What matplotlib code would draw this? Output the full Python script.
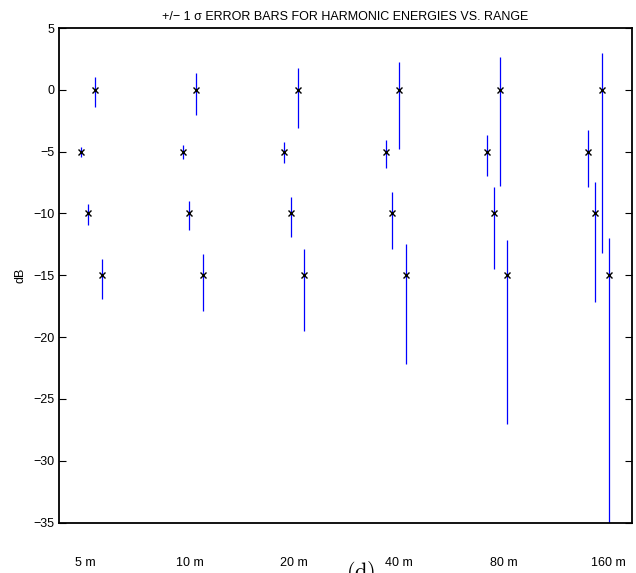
import numpy as np
import matplotlib
matplotlib.use('Agg')
import matplotlib.pyplot as plt

plt.rcParams['font.family'] = ['Liberation Sans', 'DejaVu Sans']
plt.rcParams['mathtext.fontset'] = 'cm'

# range bins and the mean harmonic level (dB) at each
ranges = ['5 m', '10 m', '20 m', '40 m', '80 m', '160 m']
levels = [0, -5, -10, -15]

# +/- 1 sigma limits (dB) for each harmonic level, one value per range bin
upper_0 = [1.03, 1.40, 1.78, 2.24, 2.67, 2.94]
lower_0 = [-1.38, -2.02, -3.08, -4.80, -7.77, -13.17]
upper_5 = [-4.62, -4.45, -4.26, -4.02, -3.67, -3.27]
lower_5 = [-5.43, -5.61, -5.91, -6.29, -6.94, -7.88]
upper_10 = [-9.26, -9.01, -8.69, -8.29, -7.85, -7.45]
lower_10 = [-10.90, -11.31, -11.90, -12.87, -14.46, -17.17]
upper_15 = [-13.68, -13.28, -12.85, -12.44, -12.12, -11.99]
lower_15 = [-16.90, -17.87, -19.49, -22.16, -27.02, -42.0]

uppers = [upper_0, upper_5, upper_10, upper_15]
lowers = [lower_0, lower_5, lower_10, lower_15]

# small horizontal shift per harmonic so the bars don't overlap
shift = [2, 0, 1, 3]
step = 0.0667

fig = plt.figure(figsize=(6.36, 5.73), dpi=100)
ax = fig.add_axes([0.0928, 0.0881, 0.9009, 0.8630])

xpos = np.arange(1, len(ranges) + 1)
for lev, up, lo, s in zip(levels, uppers, lowers, shift):
    x = xpos + s * step
    y = np.full(len(xpos), float(lev))
    up = np.array(up)
    lo = np.array(lo)
    ax.errorbar(x, y, yerr=[y - lo, up - y], fmt='none', ecolor='#0000ff',
                elinewidth=0.9, capsize=0, zorder=2)
    ax.plot(x, y, 'x', color='black', markersize=4.5, markeredgewidth=1.0,
            zorder=3)

ax.set_xlim(0.78, 6.431)
ax.set_ylim(-35, 5)
ax.set_yticks(np.arange(-35, 6, 5))

# range labels sit well below the axis, no tick marks
ax.set_xticks(1.036 + 1.032 * np.arange(len(ranges)))
ax.set_xticklabels(ranges)
ax.tick_params(axis='x', length=0, pad=25, labelsize=9)
ax.tick_params(axis='y', direction='in', length=5, width=0.8, right=True,
               labelsize=9, pad=3)

for sp in ax.spines.values():
    sp.set_linewidth(1.3)

ax.set_ylabel('dB', fontsize=9, labelpad=5)
ax.set_title('+/\u2212 1 \u03c3 ERROR BARS FOR HARMONIC ENERGIES VS. RANGE',
             fontsize=9, pad=6)

# panel tag, partly below the bottom edge
fig.text(0.567, 0.001, r'$\mathrm{(d)}$', fontsize=16,
         ha='center', va='center')

fig.savefig('out.png', dpi=100)
